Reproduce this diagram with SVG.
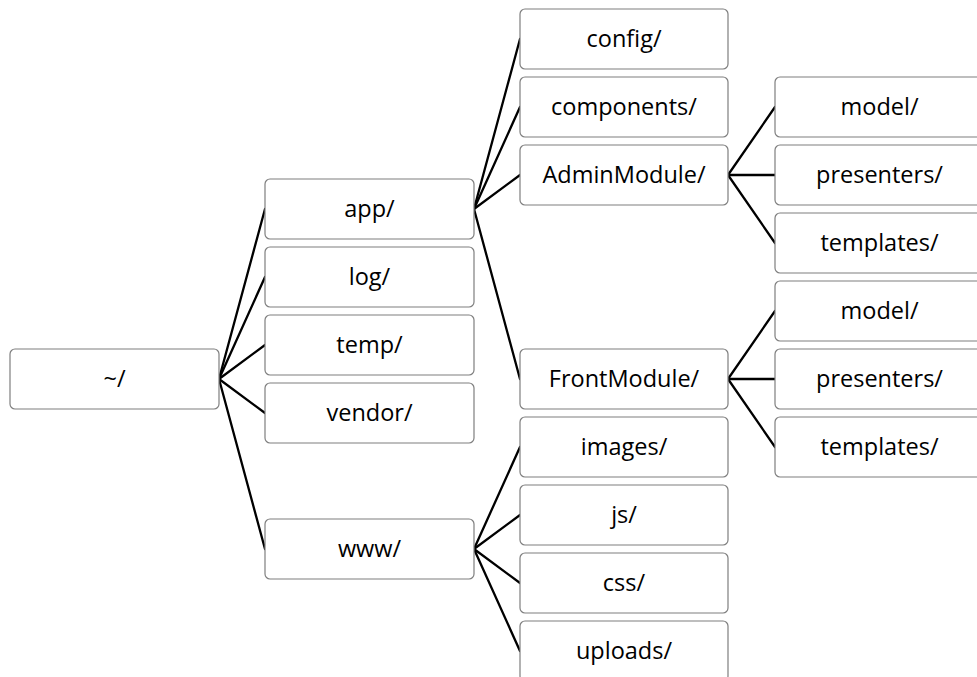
<svg xmlns="http://www.w3.org/2000/svg" width="977" height="677" viewBox="0 0 977 677">
  <style>
    .box rect { fill: #ffffff; stroke: #7f7f7f; stroke-width: 1.2; }
    .box text { font-family: "Open Sans", "Noto Sans", sans-serif; font-size: 23.5px; fill: #000000; text-anchor: middle; }
    #links line { stroke: #000000; stroke-width: 2.3; stroke-linecap: round; }
  </style>
  <rect width="977" height="677" fill="#ffffff"/>

  <!-- connectors -->
  <g id="links">
    <!-- ~/ to first level -->
    <line x1="219" y1="379" x2="265" y2="209"/>
    <line x1="219" y1="379" x2="265" y2="277"/>
    <line x1="219" y1="379" x2="265" y2="345"/>
    <line x1="219" y1="379" x2="265" y2="413"/>
    <line x1="219" y1="379" x2="265" y2="549"/>
    <!-- app/ -->
    <line x1="474" y1="209" x2="520" y2="39"/>
    <line x1="474" y1="209" x2="520" y2="107"/>
    <line x1="474" y1="209" x2="520" y2="175"/>
    <line x1="474" y1="209" x2="520" y2="379"/>
    <!-- AdminModule/ -->
    <line x1="728" y1="175" x2="775" y2="107"/>
    <line x1="728" y1="175" x2="775" y2="175"/>
    <line x1="728" y1="175" x2="775" y2="243"/>
    <!-- FrontModule/ -->
    <line x1="728" y1="379" x2="775" y2="311"/>
    <line x1="728" y1="379" x2="775" y2="379"/>
    <line x1="728" y1="379" x2="775" y2="447"/>
    <!-- www/ -->
    <line x1="474" y1="549" x2="520" y2="447"/>
    <line x1="474" y1="549" x2="520" y2="515"/>
    <line x1="474" y1="549" x2="520" y2="583"/>
    <line x1="474" y1="549" x2="520" y2="651"/>
  </g>

  <!-- root -->
  <g id="root" class="box"><rect x="10" y="349" width="209" height="60" rx="5"/><text x="114.5" y="387">~/</text></g>

  <!-- first level -->
  <g id="app" class="box"><rect x="265" y="179" width="209" height="60" rx="5"/><text x="369.5" y="217">app/</text></g>
  <g id="log" class="box"><rect x="265" y="247" width="209" height="60" rx="5"/><text x="369.5" y="285">log/</text></g>
  <g id="temp" class="box"><rect x="265" y="315" width="209" height="60" rx="5"/><text x="369.5" y="353">temp/</text></g>
  <g id="vendor" class="box"><rect x="265" y="383" width="209" height="60" rx="5"/><text x="369.5" y="421">vendor/</text></g>
  <g id="www" class="box"><rect x="265" y="519" width="209" height="60" rx="5"/><text x="369.5" y="557">www/</text></g>

  <!-- app/ children -->
  <g id="config" class="box"><rect x="520" y="9" width="208" height="60" rx="5"/><text x="624" y="47">config/</text></g>
  <g id="components" class="box"><rect x="520" y="77" width="208" height="60" rx="5"/><text x="624" y="115">components/</text></g>
  <g id="admin-module" class="box"><rect x="520" y="145" width="208" height="60" rx="5"/><text x="624" y="183">AdminModule/</text></g>
  <g id="front-module" class="box"><rect x="520" y="349" width="208" height="60" rx="5"/><text x="624" y="387">FrontModule/</text></g>

  <!-- www/ children -->
  <g id="images" class="box"><rect x="520" y="417" width="208" height="60" rx="5"/><text x="624" y="455">images/</text></g>
  <g id="js" class="box"><rect x="520" y="485" width="208" height="60" rx="5"/><text x="624" y="523">js/</text></g>
  <g id="css" class="box"><rect x="520" y="553" width="208" height="60" rx="5"/><text x="624" y="591">css/</text></g>
  <g id="uploads" class="box"><rect x="520" y="621" width="208" height="60" rx="5"/><text x="624" y="659">uploads/</text></g>

  <!-- AdminModule/ children -->
  <g id="admin-model" class="box"><rect x="775" y="77" width="209" height="60" rx="5"/><text x="879.5" y="115">model/</text></g>
  <g id="admin-presenters" class="box"><rect x="775" y="145" width="209" height="60" rx="5"/><text x="879.5" y="183">presenters/</text></g>
  <g id="admin-templates" class="box"><rect x="775" y="213" width="209" height="60" rx="5"/><text x="879.5" y="251">templates/</text></g>

  <!-- FrontModule/ children -->
  <g id="front-model" class="box"><rect x="775" y="281" width="209" height="60" rx="5"/><text x="879.5" y="319">model/</text></g>
  <g id="front-presenters" class="box"><rect x="775" y="349" width="209" height="60" rx="5"/><text x="879.5" y="387">presenters/</text></g>
  <g id="front-templates" class="box"><rect x="775" y="417" width="209" height="60" rx="5"/><text x="879.5" y="455">templates/</text></g>
</svg>
